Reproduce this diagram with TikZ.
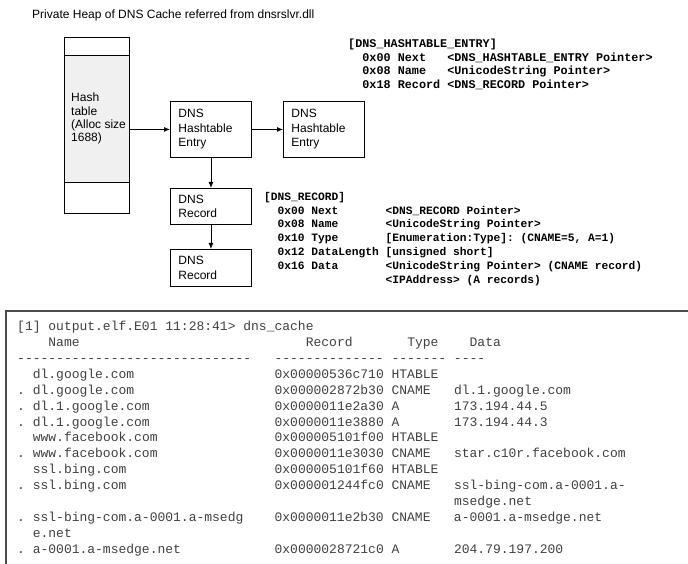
\documentclass[tikz,border=0pt]{standalone}
\usepackage{fontspec}
\setmainfont{Liberation Sans}
\setmonofont{Liberation Mono}
\usetikzlibrary{arrows.meta}

% skip #1 character cells of the current (monospaced) font
\newcommand\sk[1]{\hspace*{#1\fontcharwd\font`\0}}

\tikzset{
  block/.style={draw, line width=0.9pt, anchor=north west, align=left,
    inner xsep=8pt, inner ysep=0pt, text width=65pt,
    font=\fontsize{12}{14.5}\selectfont},
  cell/.style={draw, line width=0.9pt, anchor=north west, minimum width=65pt},
  link/.style={-{Latex[length=6pt,width=5pt]}, line width=0.9pt},
  struct/.style={anchor=north west, align=left, inner sep=0pt,
    font=\ttfamily\bfseries\fontsize{11.25}{13.8}\selectfont},
  listing/.style={anchor=north west, align=left, inner sep=0pt, text=black!75,
    font=\ttfamily\fontsize{13}{15.9}\selectfont},
}

\begin{document}
\begin{tikzpicture}[x=1pt, y=-1pt]
  \useasboundingbox (0,0) rectangle (688,564);

  \node[anchor=west, inner sep=0pt, font=\fontsize{12}{14}\selectfont] (title) at (32,15)
    {Private Heap of DNS Cache referred from dnsrslvr.dll};

  % hash table
  \node[cell, minimum height=18pt] (htop) at (64,37) {};
  \node[cell, minimum height=127pt, fill=gray!12] (hash) at (64,55) {};
  \node[cell, minimum height=31pt] (hbot) at (64,182) {};
  \node[anchor=north west, align=left, inner sep=0pt, font=\fontsize{12}{13.2}\selectfont]
    (hashtxt) at (71,93) {Hash\\table\\(Alloc size\\1688)};

  \node[block, minimum height=56pt] (entry) at (170,101) {DNS\\Hashtable\\Entry};
  \node[block, minimum height=56pt] (next) at (283,101) {DNS\\Hashtable\\Entry};
  \node[block, minimum height=36pt] (rec) at (170,188) {DNS\\Record};
  \node[block, minimum height=37pt] (nextrec) at (170,249) {DNS\\Record};

  \draw[link] (hash.east |- entry.west) -- (entry.west);
  \draw[link] (entry) -- (next);
  \draw[link] (entry) -- (rec);
  \draw[link] (rec) -- (nextrec);

  \node[struct, font=\ttfamily\bfseries\fontsize{11.8}{13.5}\selectfont] (hashdef)
    at (348,39) {[DNS\_HASHTABLE\_ENTRY]\\
    \sk{2}0x00 Next\sk{3}<DNS\_HASHTABLE\_ENTRY Pointer>\\
    \sk{2}0x08 Name\sk{3}<UnicodeString Pointer>\\
    \sk{2}0x18 Record~<DNS\_RECORD Pointer>};

  \node[struct] (recdef) at (264,192) {[DNS\_RECORD]\\
    \sk{2}0x00 Next\sk{7}<DNS\_RECORD Pointer>\\
    \sk{2}0x08 Name\sk{7}<UnicodeString Pointer>\\
    \sk{2}0x10 Type\sk{7}[Enumeration:Type]:~(CNAME=5,~A=1)\\
    \sk{2}0x12 DataLength~[unsigned short]\\
    \sk{2}0x16 Data\sk{7}<UnicodeString Pointer>~(CNAME record)\\
    \sk{18}<IPAddress>~(A records)};

  % console output
  \draw[line width=1.3pt, gray!60!black] (6,564) -- (6,311) -- (688,311);
  \node[listing] (console) at (17,321) {[1]~output.elf.E01~11:28:41>~dns\_cache\\
    \sk{4}Name\sk{29}Record\sk{7}Type\sk{4}Data\\
    ------------------------------\sk{3}--------------~-------~----\\
    \sk{2}dl.google.com\sk{18}0x00000536c710~HTABLE\\
    .~dl.google.com\sk{18}0x000002872b30~CNAME\sk{3}dl.1.google.com\\
    .~dl.1.google.com\sk{16}0x0000011e2a30~A\sk{7}173.194.44.5\\
    .~dl.1.google.com\sk{16}0x0000011e3880~A\sk{7}173.194.44.3\\
    \sk{2}www.facebook.com\sk{15}0x000005101f00~HTABLE\\
    .~www.facebook.com\sk{15}0x0000011e3030~CNAME\sk{3}star.c10r.facebook.com\\
    \sk{2}ssl.bing.com\sk{19}0x000005101f60~HTABLE\\
    .~ssl.bing.com\sk{19}0x000001244fc0~CNAME\sk{3}ssl-bing-com.a-0001.a-\\
    \sk{56}msedge.net\\
    .~ssl-bing-com.a-0001.a-msedg\sk{4}0x0000011e2b30~CNAME\sk{3}a-0001.a-msedge.net\\
    \sk{2}e.net\\
    .~a-0001.a-msedge.net\sk{12}0x0000028721c0~A\sk{7}204.79.197.200};
\end{tikzpicture}
\end{document}
